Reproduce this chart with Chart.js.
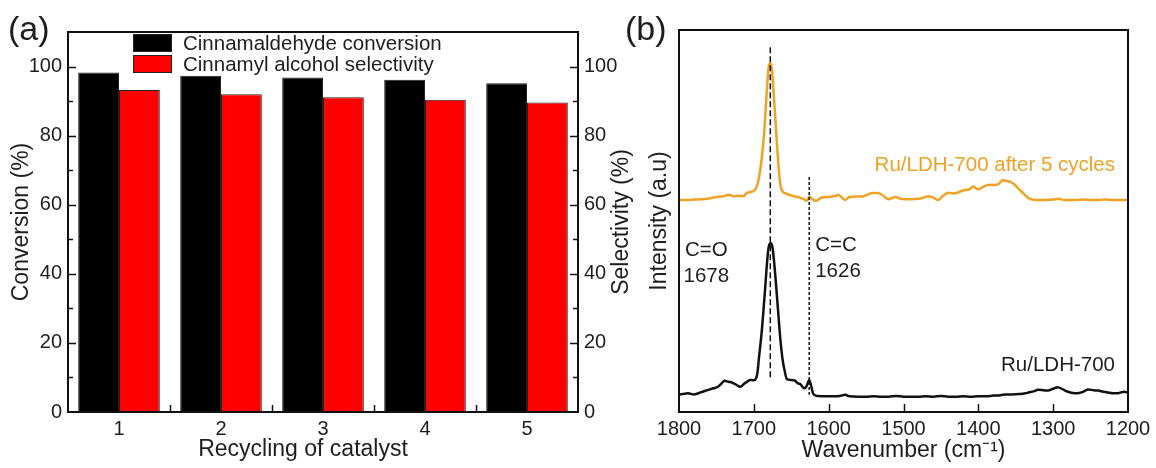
<!DOCTYPE html>
<html>
<head>
<meta charset="utf-8">
<title>Catalyst recycling and Raman spectra</title>
<script src="https://cdn.jsdelivr.net/npm/chart.js@4.4.1/dist/chart.umd.min.js"></script>
<style>
  html, body { margin: 0; padding: 0; background: #fff; }
  #wrap { position: relative; width: 1156px; height: 468px; overflow: hidden; }
  canvas { position: absolute; top: 0; }
  #barChart { left: 0; }
  #ramanChart { left: 620px; }
</style>
</head>
<body>
<div id="wrap">
  <canvas id="barChart" width="640" height="468"></canvas>
  <canvas id="ramanChart" width="536" height="468"></canvas>
</div>
<script>
// panel (a) data
var cycles = ["1", "2", "3", "4", "5"];
var conversion = [98.3, 97.3, 96.8, 96.2, 95.2];
var selectivity = [93.2, 92.0, 91.1, 90.4, 89.6];

// panel (b) data: Raman spectra, wavenumber (cm-1) / intensity (a.u.)
var afterWn = [1800, 1790, 1780, 1770, 1760, 1750, 1740, 1733, 1728, 1720, 1714, 1709, 1704, 1700,
  1697, 1694, 1691, 1688, 1686, 1684, 1682, 1680, 1678, 1676, 1674, 1672, 1670, 1668, 1666, 1664,
  1661, 1658, 1652, 1645, 1638, 1632, 1629, 1626, 1622, 1617, 1610, 1600, 1590, 1587, 1582, 1578,
  1572, 1564, 1555, 1548, 1542, 1534, 1527, 1520, 1511, 1504, 1498, 1490, 1480, 1472, 1467, 1460,
  1454, 1447, 1440, 1434, 1428, 1423, 1418, 1412, 1407, 1400, 1394, 1388, 1383, 1378, 1372, 1368,
  1363, 1358, 1352, 1347, 1340, 1333, 1324, 1310, 1300, 1293, 1285, 1270, 1260, 1250, 1240, 1230,
  1220, 1210, 1200];
var afterInt = [55.5, 55.5, 55.6, 55.7, 55.9, 56.3, 56.5, 56.9, 56.5, 56.6, 56.5, 57.4, 57.6, 57.9,
  58.6, 60.5, 64, 69, 73.5, 80, 86, 90.5, 91.3, 90, 85, 79, 73, 67, 62, 59,
  57.6, 57.3, 56.8, 56.4, 56.1, 55.6, 55.3, 56.4, 55.8, 55.3, 56.1, 56.3, 56.6, 56.9, 56, 55.5,
  56.3, 56.4, 56.4, 56.9, 57.3, 57.3, 56.6, 55.7, 56.3, 55.8, 55.7, 55.7, 55.8, 56.2, 56.5, 56.1,
  55.5, 56.6, 57.4, 57.2, 57.4, 57.8, 58.1, 58.3, 59.0, 58.3, 58.9, 59.4, 59.5, 59.4, 59.8, 60.7,
  60.5, 60.3, 59.6, 58.6, 57.3, 56.0, 55.5, 55.5, 55.6, 55.8, 55.5, 55.5, 55.6, 55.5, 55.5, 55.6,
  55.5, 55.5, 55.5];

var freshWn = [1800, 1792, 1788, 1780, 1770, 1761, 1754, 1748, 1743, 1739, 1734, 1729, 1724, 1718,
  1713, 1709, 1705, 1700, 1697, 1695, 1693, 1691, 1689, 1687, 1685, 1683, 1681, 1679, 1677, 1675,
  1673, 1671, 1669, 1667, 1665, 1663, 1661, 1659, 1656, 1650, 1645, 1641, 1638, 1635, 1632, 1629,
  1626, 1623, 1621, 1617, 1614, 1605, 1595, 1585, 1578, 1572, 1560, 1550, 1540, 1530, 1520, 1510,
  1500, 1490, 1480, 1470, 1460, 1450, 1440, 1430, 1420, 1410, 1400, 1390, 1380, 1370, 1364, 1355,
  1345, 1337, 1333, 1326, 1320, 1313, 1307, 1300, 1294, 1287, 1280, 1274, 1268, 1260, 1253, 1246,
  1240, 1233, 1227, 1220, 1214, 1210, 1205, 1200];
var freshInt = [4.6, 4.8, 4.9, 4.6, 5.2, 5.8, 6.2, 6.6, 7.5, 8.2, 7.9, 7.7, 7.2, 6.6,
  7.4, 7.9, 8.4, 8.3, 8.8, 10.5, 14.5, 18, 22, 27, 32, 37.5, 42, 44, 44.2, 43,
  39.5, 35, 30, 25, 20, 16, 13, 11, 8.6, 8.4, 8.2, 7.5, 7.3, 6.6, 6.2, 7,
  8.4, 6.5, 4.9, 4.3, 4.2, 4.1, 4.1, 4.2, 4.5, 4.1, 4.0, 4.0, 4.1, 4.0, 4.0, 4.2,
  4.0, 4.0, 4.0, 4.1, 4.0, 4.2, 4.0, 4.0, 4.1, 4.0, 4.1, 4.1, 4.3, 4.4, 4.6, 4.6,
  4.7, 4.9, 5.1, 5.4, 5.8, 5.7, 5.6, 6.1, 6.5, 5.9, 5.3, 5.0, 4.9, 5.3, 5.9, 5.7,
  5.6, 5.3, 5.1, 4.9, 4.9, 5.1, 5.3, 5.0];

// dashed guide lines: C=O and C=C positions
var markerWn = [1678, 1626];
var markerTop = [95.5, 61.5];
var markerBottom = [8.9, 4.5];
var markerLabels = [["C=O", "1678"], ["C=C", "1626"]];

var FONT = "'Liberation Sans', Arial, sans-serif";
var TXT = "#1e1e1e";
var ORANGE = "#f0a224";

function toPoints(xs, ys) {
  return xs.map(function (x, i) { return { x: x, y: ys[i] }; });
}

// ---------- panel (a) ----------
var panelA = {
  id: "panelA",
  afterDraw: function (chart) {
    var ctx = chart.ctx, a = chart.chartArea;
    var y = chart.scales.y, x = chart.scales.x;
    ctx.save();
    ctx.strokeStyle = "#111";
    ctx.lineWidth = 2;
    ctx.strokeRect(a.left, a.top, a.right - a.left, a.bottom - a.top);

    // inward ticks on both y axes
    ctx.lineWidth = 1.5;
    y.ticks.forEach(function (t) {
      if (t.value <= 0 || t.value >= y.max) return;
      var len = t.value % 20 === 0 ? 8 : 5;
      var py = Math.round(y.getPixelForValue(t.value)) + 0.5;
      ctx.beginPath();
      ctx.moveTo(a.left, py); ctx.lineTo(a.left + len, py);
      ctx.moveTo(a.right, py); ctx.lineTo(a.right - len, py);
      ctx.stroke();
    });
    // ticks between categories
    for (var i = 0; i < cycles.length - 1; i++) {
      var px = Math.round((x.getPixelForValue(i) + x.getPixelForValue(i + 1)) / 2) + 0.5;
      ctx.beginPath();
      ctx.moveTo(px, a.bottom); ctx.lineTo(px, a.bottom - 7);
      ctx.stroke();
    }

    // legend inside plot
    ctx.font = "20.5px " + FONT;
    ctx.textBaseline = "middle";
    ctx.textAlign = "left";
    chart.data.datasets.forEach(function (ds, k) {
      var bx = a.left + 65, by = a.top + 2 + k * 21;
      ctx.fillStyle = ds.backgroundColor;
      ctx.fillRect(bx, by, 39, 18);
      ctx.lineWidth = 1;
      ctx.strokeStyle = "#222";
      ctx.strokeRect(bx + 0.5, by + 0.5, 38, 17);
      ctx.fillStyle = TXT;
      ctx.fillText(ds.label, bx + 50, by + 10);
    });

    // x title, right y title, panel tag
    ctx.fillStyle = TXT;
    ctx.font = "23px " + FONT;
    ctx.textAlign = "center";
    ctx.fillText("Recycling of catalyst", 303, 450);
    ctx.save();
    ctx.translate(622, (a.top + a.bottom) / 2);
    ctx.rotate(-Math.PI / 2);
    ctx.fillText("Selectivity (%)", 0, 0);
    ctx.restore();
    ctx.font = "34px " + FONT;
    ctx.textAlign = "left";
    ctx.fillText("(a)", 8, 31);
    ctx.restore();
  }
};

var barChart = new Chart(document.getElementById("barChart").getContext("2d"), {
  type: "bar",
  data: {
    labels: cycles,
    datasets: [
      {
        label: "Cinnamaldehyde conversion",
        data: conversion,
        yAxisID: "y",
        backgroundColor: "#000000",
        borderColor: "#222222",
        borderWidth: 1,
        categoryPercentage: 0.8,
        barPercentage: 1.0
      },
      {
        label: "Cinnamyl alcohol selectivity",
        data: selectivity,
        yAxisID: "y1",
        backgroundColor: "#ff0000",
        borderColor: "#222222",
        borderWidth: 1,
        categoryPercentage: 0.8,
        barPercentage: 1.0
      }
    ]
  },
  options: {
    responsive: false,
    animation: false,
    layout: { padding: { top: 32, left: 0, right: 0, bottom: 0 } },
    plugins: { legend: { display: false }, tooltip: { enabled: false } },
    scales: {
      x: {
        grid: { display: false, drawTicks: false },
        border: { display: false },
        ticks: { color: TXT, font: { family: FONT, size: 20 }, padding: 5 },
        afterFit: function (s) { s.height = 56; }
      },
      y: {
        position: "left",
        min: 0,
        max: 110,
        grid: { display: false, drawTicks: false },
        border: { display: false },
        ticks: {
          stepSize: 10,
          color: TXT,
          font: { family: FONT, size: 20 },
          padding: 6,
          callback: function (v) { return v % 20 === 0 ? String(v) : ""; }
        },
        title: {
          display: true,
          text: "Conversion (%)",
          color: TXT,
          font: { family: FONT, size: 23 },
          padding: { top: 8, bottom: 0 }
        },
        afterFit: function (s) { s.width = 68; }
      },
      y1: {
        position: "right",
        min: 0,
        max: 110,
        grid: { display: false, drawTicks: false },
        border: { display: false },
        ticks: {
          stepSize: 10,
          color: TXT,
          font: { family: FONT, size: 20 },
          padding: 6,
          callback: function (v) { return v % 20 === 0 ? String(v) : ""; }
        },
        afterFit: function (s) { s.width = 62; }
      }
    }
  },
  plugins: [panelA]
});

// ---------- panel (b) ----------
var panelB = {
  id: "panelB",
  afterDraw: function (chart) {
    var ctx = chart.ctx, a = chart.chartArea, x = chart.scales.x;
    ctx.save();
    ctx.strokeStyle = "#111";
    ctx.lineWidth = 2;
    ctx.strokeRect(a.left, a.top, a.right - a.left, a.bottom - a.top);
    ctx.lineWidth = 1.5;
    x.ticks.forEach(function (t) {
      if (t.value <= x.min || t.value >= x.max) return;
      var px = Math.round(x.getPixelForValue(t.value)) + 0.5;
      ctx.beginPath();
      ctx.moveTo(px, a.bottom); ctx.lineTo(px, a.bottom - 8);
      ctx.stroke();
    });

    ctx.font = "20.5px " + FONT;
    ctx.textBaseline = "middle";
    // peak labels
    ctx.fillStyle = TXT;
    var p0 = x.getPixelForValue(markerWn[0]);
    ctx.textAlign = "center";
    ctx.fillText(markerLabels[0][0], p0 - 64, 250);
    ctx.fillText(markerLabels[0][1], p0 - 64, 276);
    var p1 = x.getPixelForValue(markerWn[1]);
    ctx.textAlign = "left";
    ctx.fillText(markerLabels[1][0], p1 + 6, 245);
    ctx.fillText(markerLabels[1][1], p1 + 6, 271);
    // series labels
    ctx.textAlign = "right";
    ctx.fillStyle = ORANGE;
    ctx.fillText(chart.data.datasets[2].label, a.right - 13, 165);
    ctx.fillStyle = TXT;
    ctx.fillText(chart.data.datasets[3].label, a.right - 13, 365);

    ctx.font = "34px " + FONT;
    ctx.textAlign = "left";
    ctx.fillText("(b)", 5, 31);
    ctx.restore();
  }
};

var markerSets = markerWn.map(function (w, i) {
  return {
    label: markerLabels[i].join(" "),
    data: [{ x: w, y: markerTop[i] }, { x: w, y: markerBottom[i] }],
    borderColor: "#111",
    borderWidth: 1.5,
    borderDash: i === 0 ? [6, 3] : [3, 2],
    pointRadius: 0,
    fill: false
  };
});

var ramanChart = new Chart(document.getElementById("ramanChart").getContext("2d"), {
  type: "line",
  data: {
    datasets: markerSets.concat([
      {
        label: "Ru/LDH-700 after 5 cycles",
        data: toPoints(afterWn, afterInt),
        borderColor: ORANGE,
        borderWidth: 2.5,
        pointRadius: 0,
        cubicInterpolationMode: "monotone",
        fill: false
      },
      {
        label: "Ru/LDH-700",
        data: toPoints(freshWn, freshInt),
        borderColor: "#111",
        borderWidth: 2.5,
        pointRadius: 0,
        cubicInterpolationMode: "monotone",
        fill: false
      }
    ])
  },
  options: {
    responsive: false,
    animation: false,
    layout: { padding: { top: 30, left: 0, right: 28, bottom: 0 } },
    plugins: { legend: { display: false }, tooltip: { enabled: false } },
    scales: {
      x: {
        type: "linear",
        reverse: true,
        min: 1200,
        max: 1800,
        grid: { display: false, drawTicks: false },
        border: { display: false },
        ticks: {
          stepSize: 100,
          color: TXT,
          font: { family: FONT, size: 20 },
          padding: 5,
          callback: function (v) { return String(v); }
        },
        title: {
          display: true,
          text: "Wavenumber (cm\u207B\u00B9)",
          color: TXT,
          font: { family: FONT, size: 23 },
          padding: { top: 0, bottom: 4 }
        },
        afterFit: function (s) { s.height = 56; }
      },
      y: {
        min: 0,
        max: 100,
        grid: { display: false, drawTicks: false },
        border: { display: false },
        ticks: { display: false },
        title: {
          display: true,
          text: "Intensity (a.u)",
          color: TXT,
          font: { family: FONT, size: 23 },
          padding: { top: 26, bottom: 0 }
        },
        afterFit: function (s) { s.width = 59; }
      }
    }
  },
  plugins: [panelB]
});
</script>
</body>
</html>
